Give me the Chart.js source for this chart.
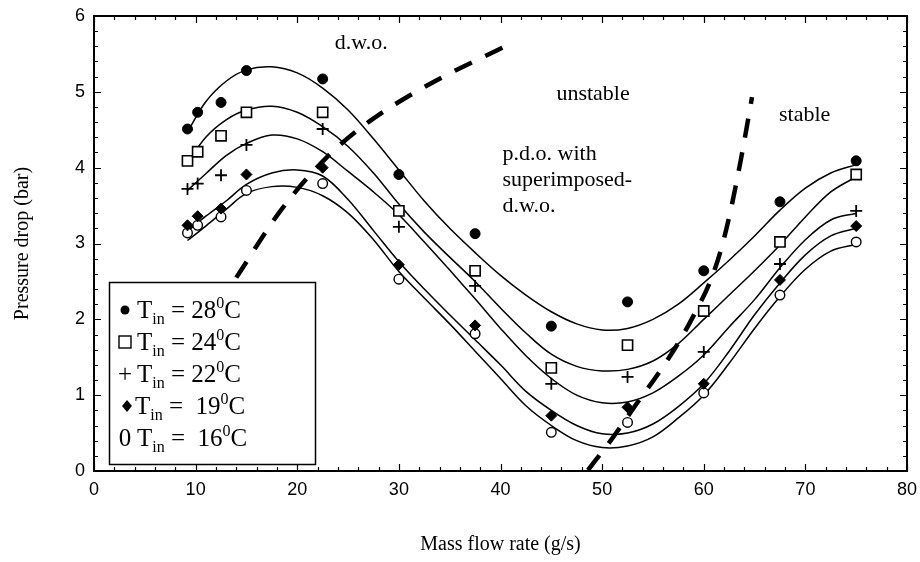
<!DOCTYPE html>
<html>
<head>
<meta charset="utf-8">
<script src="https://cdn.jsdelivr.net/npm/chart.js@4.4.0/dist/chart.umd.min.js"></script>
<style>
html,body{margin:0;padding:0;background:#fff;}
#wrap{width:920px;height:562px;position:relative;}
</style>
</head>
<body>
<div id="wrap"><canvas id="c" width="920" height="562"></canvas></div>
<script>
// ---------- measured points (mass flow rate g/s, pressure drop bar) ----------
const flowX = [9.2, 10.2, 12.5, 15, 22.5, 30, 37.5, 45, 52.5, 60, 67.5, 75];
const dp28 = [4.51, 4.73, 4.86, 5.28, 5.17, 3.91, 3.13, 1.91, 2.23, 2.64, 3.55, 4.09];
const dp24 = [4.09, 4.21, 4.42, 4.73, 4.73, 3.43, 2.64, 1.36, 1.66, 2.11, 3.02, 3.91];
const dp22 = [3.72, 3.79, 3.90, 4.30, 4.51, 3.22, 2.44, 1.15, 1.24, 1.57, 2.73, 3.43];
const dp19 = [3.24, 3.36, 3.46, 3.91, 4.00, 2.72, 1.92, 0.73, 0.84, 1.15, 2.52, 3.23];
const dp16 = [3.14, 3.24, 3.35, 3.70, 3.79, 2.53, 1.81, 0.51, 0.64, 1.03, 2.32, 3.02];

// ---------- fitted curves ----------
const fitX  = [9.2, 11, 13, 15, 17.5, 20, 22.5, 25, 27.5, 30, 32.5, 35, 37.5, 40, 42.5, 45, 47.5, 50, 52.5, 55, 57.5, 60, 62.5, 65, 67.5, 70, 72.5, 75];
const fit28 = [4.47, 4.87, 5.14, 5.29, 5.33, 5.25, 5.05, 4.76, 4.38, 3.97, 3.56, 3.20, 2.88, 2.58, 2.32, 2.10, 1.94, 1.86, 1.88, 2.00, 2.20, 2.48, 2.78, 3.10, 3.44, 3.73, 3.93, 4.04];
const fit24 = [4.06, 4.40, 4.63, 4.76, 4.81, 4.73, 4.54, 4.28, 3.93, 3.52, 3.15, 2.82, 2.50, 2.15, 1.82, 1.54, 1.38, 1.32, 1.34, 1.45, 1.68, 2.00, 2.32, 2.64, 2.98, 3.35, 3.68, 3.88];
const fit22 = [3.70, 3.92, 4.16, 4.32, 4.43, 4.38, 4.21, 3.95, 3.68, 3.38, 3.02, 2.65, 2.27, 1.88, 1.52, 1.22, 1.00, 0.90, 0.91, 1.03, 1.25, 1.53, 1.90, 2.26, 2.68, 3.05, 3.31, 3.40];
const fit19 = [3.16, 3.36, 3.56, 3.78, 3.93, 3.97, 3.89, 3.58, 3.17, 2.76, 2.40, 2.06, 1.73, 1.40, 1.05, 0.80, 0.60, 0.49, 0.50, 0.62, 0.85, 1.15, 1.58, 2.06, 2.48, 2.85, 3.10, 3.20];
const fit16 = [3.04, 3.23, 3.45, 3.66, 3.75, 3.74, 3.63, 3.40, 3.05, 2.63, 2.28, 1.94, 1.58, 1.22, 0.86, 0.60, 0.40, 0.31, 0.33, 0.45, 0.70, 1.00, 1.42, 1.88, 2.30, 2.66, 2.90, 2.99];

// ---------- stability boundaries (dashed) ----------
const dwoX = [14.0, 18.4, 23.0, 27.0, 33.0, 40.6];
const dwoY = [2.55, 3.44, 4.15, 4.60, 5.10, 5.61];
const pdoX = [48.6, 51.0, 53.3, 55.5, 57.5, 59.2, 60.7, 61.8, 62.7, 63.7, 64.75];
const pdoY = [0.01, 0.43, 0.87, 1.28, 1.69, 2.10, 2.52, 2.97, 3.47, 4.14, 4.93];

// ---------- text ----------
const legendTemps = ['28', '24', '22', '19', '16'];
const legendEq = [' = ', ' = ', ' = ', ' =  ', ' =  '];
const xMajorTicks = [0, 10, 20, 30, 40, 50, 60, 70, 80];
const yMajorTicks = [0, 1, 2, 3, 4, 5, 6];
const annotations = [
  {text: 'd.w.o.', x: 23.7, y: 5.56},
  {text: 'unstable', x: 45.5, y: 4.89},
  {text: 'stable', x: 67.4, y: 4.61},
  {text: 'p.d.o. with', x: 40.2, y: 4.10},
  {text: 'superimposed-', x: 40.2, y: 3.76},
  {text: 'd.w.o.', x: 40.2, y: 3.42}
];

const SERIF = '"Liberation Serif", "Times New Roman", serif';
const NARROW = '"Liberation Sans Narrow", "Liberation Sans", Arial, sans-serif';

const pts = (xs, ys) => xs.map((x, i) => ({x, y: ys[i]}));

function curveDs(ys) {
  return {type: 'scatter', data: pts(fitX, ys), showLine: true, borderColor: '#000', borderWidth: 1.5,
    pointRadius: 0, tension: 0.35, fill: false, order: 2};
}
function dashDs(xs, ys) {
  return {type: 'scatter', data: pts(xs, ys), showLine: true, borderColor: '#000', borderWidth: 4.5,
    borderDash: [19, 15], borderCapStyle: 'butt', pointRadius: 0, cubicInterpolationMode: 'monotone', fill: false, order: 3};
}
function pointDs(ys, style, radius, fillColor, bw) {
  return {type: 'scatter', data: pts(flowX, ys), showLine: false, pointStyle: style, pointRadius: radius,
    pointBackgroundColor: fillColor, pointBorderColor: '#000', pointBorderWidth: bw, order: 1};
}

const datasets = [
  pointDs(dp28, 'circle', 5, '#000', 1),
  pointDs(dp24, 'rect', 7.2, '#fff', 1.6),
  pointDs(dp22, 'cross', 6, '#000', 1.8),
  pointDs(dp19, 'rectRot', 5.5, '#000', 1),
  pointDs(dp16, 'circle', 4.8, '#fff', 1.4),
  curveDs(fit28), curveDs(fit24), curveDs(fit22), curveDs(fit19), curveDs(fit16),
  dashDs(dwoX, dwoY), dashDs(pdoX, pdoY)
];

const decor = {
  id: 'decor',
  afterDatasetsDraw(chart) {
    const {ctx, chartArea: a} = chart;
    const xs = chart.scales.x, ys = chart.scales.y;
    ctx.save();
    // inward ticks
    ctx.strokeStyle = '#000';
    ctx.lineWidth = 1.2;
    ctx.beginPath();
    for (let v = 0; v <= 80.001; v += 2) {
      const p = Math.round(xs.getPixelForValue(v)) + 0.5;
      const L = xMajorTicks.includes(Math.round(v)) ? 7 : 4;
      ctx.moveTo(p, a.bottom); ctx.lineTo(p, a.bottom - L);
      ctx.moveTo(p, a.top); ctx.lineTo(p, a.top + L);
    }
    for (let k = 0; k <= 30; k++) {
      const v = k * 0.2;
      const p = Math.round(ys.getPixelForValue(v)) + 0.5;
      const L = (k % 5 === 0) ? 7 : 4;
      ctx.moveTo(a.left, p); ctx.lineTo(a.left + L, p);
      ctx.moveTo(a.right, p); ctx.lineTo(a.right - L, p);
    }
    ctx.stroke();
    // frame
    ctx.lineWidth = 2;
    ctx.strokeRect(a.left, a.top, a.right - a.left, a.bottom - a.top);

    // annotations
    ctx.fillStyle = '#000';
    ctx.font = '22px ' + SERIF;
    ctx.textAlign = 'left';
    ctx.textBaseline = 'alphabetic';
    annotations.forEach(t => ctx.fillText(t.text, xs.getPixelForValue(t.x), ys.getPixelForValue(t.y)));

    // legend box
    const bx = a.left + 15, by = a.top + 266, bw = 206, bh = 182;
    ctx.fillStyle = '#fff';
    ctx.fillRect(bx, by, bw, bh);
    ctx.lineWidth = 1.5;
    ctx.strokeRect(bx + 0.5, by + 0.5, bw, bh);
    ctx.fillStyle = '#000';
    const big = '25px ' + SERIF, small = '16px ' + SERIF;
    for (let i = 0; i < legendTemps.length; i++) {
      const base = by + 36 + i * 32;
      const cy = base - 8;
      const sx = bx + 16;
      ctx.beginPath();
      ctx.lineWidth = 1.4;
      if (i === 0) { ctx.arc(sx, cy, 4.5, 0, Math.PI * 2); ctx.fill(); }
      else if (i === 1) { ctx.strokeRect(sx - 6, cy - 6, 12, 12); }
      else if (i === 2) { ctx.font = big; ctx.textAlign = 'center'; ctx.fillText('+', sx, base); ctx.textAlign = 'left'; }
      else if (i === 3) { ctx.moveTo(sx + 2, cy - 6); ctx.lineTo(sx + 7, cy); ctx.lineTo(sx + 2, cy + 6); ctx.lineTo(sx - 3, cy); ctx.closePath(); ctx.fill(); }
      else { ctx.font = big; ctx.textAlign = 'center'; ctx.fillText('0', sx, base); ctx.textAlign = 'left'; }
      let tx = bx + (i === 3 ? 26 : 28);
      ctx.font = big; ctx.fillText('T', tx, base); tx += ctx.measureText('T').width;
      ctx.font = small; ctx.fillText('in', tx, base + 6); tx += ctx.measureText('in').width;
      ctx.font = big; const s = legendEq[i] + legendTemps[i]; ctx.fillText(s, tx, base); tx += ctx.measureText(s).width;
      ctx.font = small; ctx.fillText('0', tx, base - 10); tx += ctx.measureText('0').width;
      ctx.font = big; ctx.fillText('C', tx, base);
    }
    ctx.restore();
  }
};

function zeroPad(s) { s.paddingTop = 0; s.paddingBottom = 0; s.paddingLeft = 0; s.paddingRight = 0; }

new Chart(document.getElementById('c'), {
  type: 'scatter',
  data: {datasets},
  options: {
    responsive: false,
    animation: false,
    layout: {padding: {left: 0, right: 13, top: 16, bottom: 0}},
    plugins: {legend: {display: false}, tooltip: {enabled: false}},
    scales: {
      x: {
        type: 'linear', min: 0, max: 80,
        afterBuildTicks(s) { s.ticks = xMajorTicks.map(v => ({value: v})); },
        afterFit(s) { s.height = 91; zeroPad(s); },
        ticks: {color: '#000', font: {family: NARROW, size: 18}, padding: 8, maxRotation: 0, autoSkip: false},
        grid: {display: false, drawTicks: false},
        border: {display: false},
        title: {display: true, text: 'Mass flow rate (g/s)', color: '#000', font: {family: SERIF, size: 20}, padding: {top: 0, bottom: 5}}
      },
      y: {
        type: 'linear', min: 0, max: 6,
        afterBuildTicks(s) { s.ticks = yMajorTicks.map(v => ({value: v})); },
        afterFit(s) { s.width = 94; zeroPad(s); },
        ticks: {color: '#000', font: {family: NARROW, size: 18}, padding: 9, autoSkip: false},
        grid: {display: false, drawTicks: false},
        border: {display: false},
        title: {display: true, text: 'Pressure drop (bar)', color: '#000', font: {family: SERIF, size: 20}, padding: {top: 11, bottom: 0}}
      }
    }
  },
  plugins: [decor]
});
</script>
</body>
</html>
